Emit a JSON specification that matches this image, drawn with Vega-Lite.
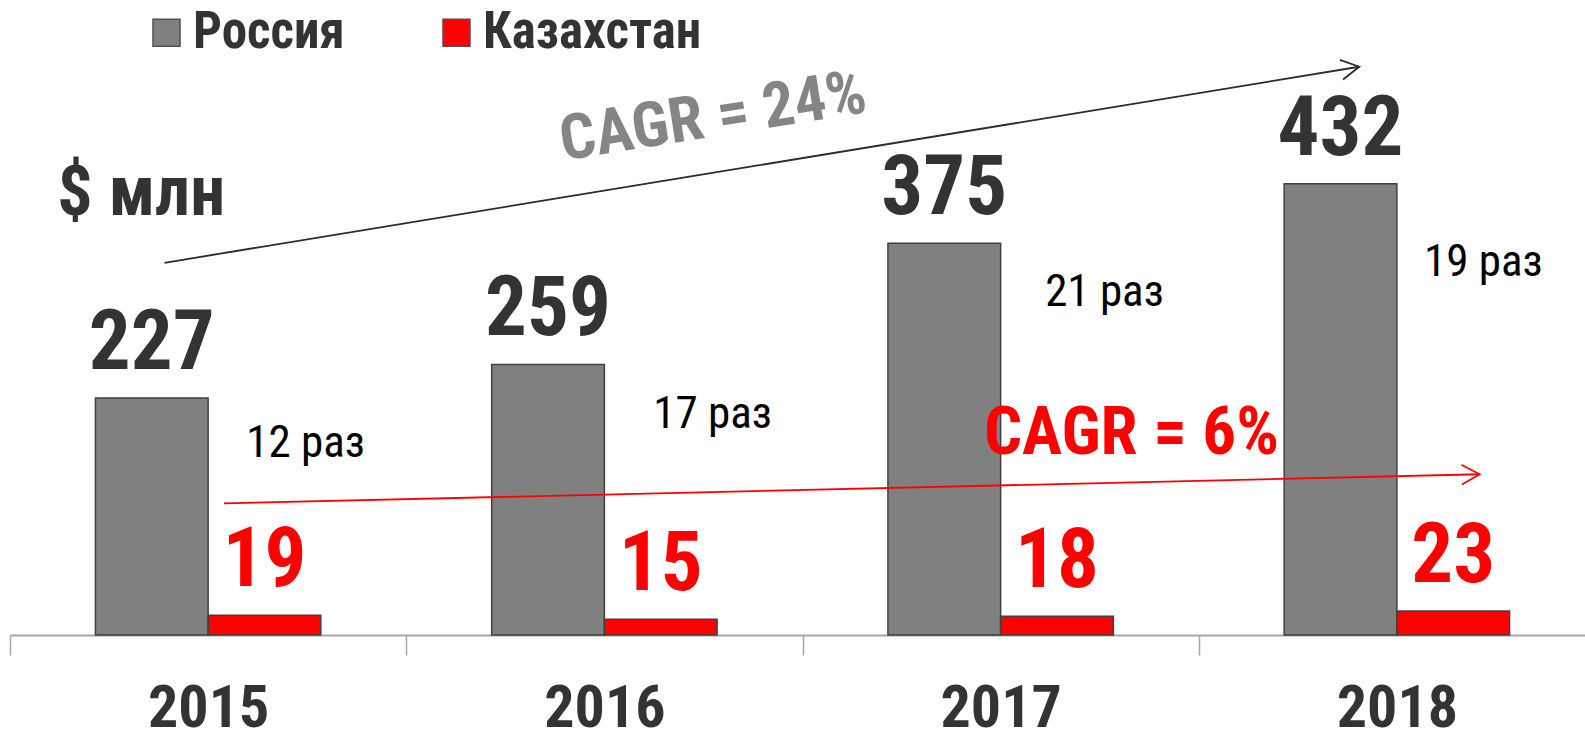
{
  "$schema": "https://vega.github.io/schema/vega-lite/v6.json",
  "width": 1575,
  "height": 635,
  "autosize": {"type": "none"},
  "padding": {"left": 10, "top": 0, "right": 0, "bottom": 102},
  "background": "white",
  "config": {
    "view": {"stroke": null},
    "font": "Liberation Sans Narrow, Arial Narrow, Roboto Condensed, DejaVu Sans Condensed, sans-serif"
  },
  "resolve": {"scale": {"x": "independent"}},
  "layer": [
    {
      "data": {"values": [
        {"year": "2015", "series": "Россия", "value": 227},
        {"year": "2015", "series": "Казахстан", "value": 19},
        {"year": "2016", "series": "Россия", "value": 259},
        {"year": "2016", "series": "Казахстан", "value": 15},
        {"year": "2017", "series": "Россия", "value": 375},
        {"year": "2017", "series": "Казахстан", "value": 18},
        {"year": "2018", "series": "Россия", "value": 432},
        {"year": "2018", "series": "Казахстан", "value": 23}
      ]},
      "encoding": {
        "x": {
          "field": "year", "type": "nominal",
          "scale": {"range": [0, 1585], "paddingInner": 0, "paddingOuter": 0},
          "axis": {
            "title": null, "labelAngle": 0, "labelFontSize": 60, "labelFontWeight": "bold",
            "labelColor": "#333333", "labelBaseline": "alphabetic", "labelPadding": 71,
            "domainColor": "#a6a6a6", "domainWidth": 2, "tickColor": "#a6a6a6", "tickWidth": 1.5,
            "tickSize": 20, "tickBand": "extent", "grid": false
          }
        },
        "xOffset": {"field": "series", "type": "nominal", "scale": {"domain": ["Россия", "Казахстан"], "paddingInner": 0, "paddingOuter": 0.758}},
        "y": {"field": "value", "type": "quantitative", "scale": {"domain": [0, 608], "nice": false, "zero": true}, "axis": null}
      },
      "layer": [
        {
          "mark": {"type": "bar", "stroke": "#404040", "strokeWidth": 1.5},
          "encoding": {
            "color": {
              "field": "series", "type": "nominal",
              "scale": {"domain": ["Россия", "Казахстан"], "range": ["#808080", "#FF0000"]},
              "legend": {
                "orient": "none", "legendX": 131, "legendY": 7, "direction": "horizontal",
                "title": null, "symbolType": "square", "symbolSize": 729,
                "symbolStrokeColor": "#505050", "symbolStrokeWidth": 1.5, "symbolOpacity": 1,
                "labelFontSize": 51, "labelFontWeight": "bold", "labelColor": "#333333",
                "labelOffset": 1, "columnPadding": 86, "padding": 0, "labelLimit": 400
              }
            }
          }
        },
        {
          "transform": [{"filter": "datum.series === 'Россия'"}],
          "mark": {"type": "text", "fontSize": 83, "fontWeight": "bold", "color": "#333333", "baseline": "alphabetic", "dy": -29},
          "encoding": {"text": {"field": "value", "type": "quantitative"}}
        },
        {
          "transform": [{"filter": "datum.series === 'Казахстан'"}],
          "mark": {"type": "text", "fontSize": 83, "fontWeight": "bold", "color": "#FF0000", "baseline": "alphabetic", "dy": -29},
          "encoding": {"text": {"field": "value", "type": "quantitative"}}
        }
      ]
    },
    {
      "encoding": {
        "x": {"field": "xq", "type": "quantitative", "scale": {"domain": [2014.5, 2018.5], "range": [0, 1585], "zero": false, "nice": false}, "axis": null},
        "y": {"field": "yq", "type": "quantitative", "axis": null}
      },
      "layer": [
        {
          "data": {"values": [{"xq": 2014.89, "yq": 356.4}, {"xq": 2017.905, "yq": 544.1}]},
          "mark": {"type": "line", "color": "#2b2b2b", "strokeWidth": 1.8}
        },
        {
          "data": {"values": [{"xq": 2017.905, "yq": 544.1}]},
          "mark": {"type": "point", "shape": "M -1 -0.55 L 0 0 L -1 0.55", "filled": false, "stroke": "#2b2b2b", "strokeWidth": 1.8, "size": 1296, "angle": -9.32, "opacity": 1}
        },
        {
          "data": {"values": [{"xq": 2015.04, "yq": 126}, {"xq": 2018.209, "yq": 153.9}]},
          "mark": {"type": "line", "color": "#FF0000", "strokeWidth": 1.8}
        },
        {
          "data": {"values": [{"xq": 2018.209, "yq": 153.9}]},
          "mark": {"type": "point", "shape": "M -1 -0.55 L 0 0 L -1 0.55", "filled": false, "stroke": "#FF0000", "strokeWidth": 1.8, "size": 1296, "angle": -1.33, "opacity": 1}
        },
        {
          "data": {"values": [
            {"xq": 2015.246, "yq": 170.7, "label": "12 раз"},
            {"xq": 2016.273, "yq": 198.6, "label": "17 раз"},
            {"xq": 2017.262, "yq": 314.7, "label": "21 раз"},
            {"xq": 2018.218, "yq": 343.7, "label": "19 раз"}
          ]},
          "mark": {"type": "text", "fontSize": 45, "color": "#000000", "baseline": "alphabetic", "align": "center"},
          "encoding": {"text": {"field": "label"}}
        },
        {
          "data": {"values": [{"xq": 2014.619, "yq": 402.1, "label": "$ млн"}]},
          "mark": {"type": "text", "fontSize": 70, "fontWeight": "bold", "color": "#333333", "baseline": "alphabetic", "align": "left"},
          "encoding": {"text": {"field": "label"}}
        },
        {
          "data": {"values": [{"xq": 2016.274, "yq": 495.5, "label": "CAGR = 24%"}]},
          "mark": {"type": "text", "fontSize": 63, "fontWeight": "bold", "color": "#858585", "baseline": "middle", "align": "center", "angle": -9},
          "encoding": {"text": {"field": "label"}}
        },
        {
          "data": {"values": [{"xq": 2017.33, "yq": 192.7, "label": "CAGR = 6%"}]},
          "mark": {"type": "text", "fontSize": 67, "fontWeight": "bold", "color": "#FF0000", "baseline": "middle", "align": "center"},
          "encoding": {"text": {"field": "label"}}
        }
      ]
    }
  ]
}
